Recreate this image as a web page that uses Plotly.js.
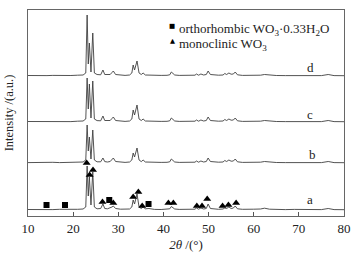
<!DOCTYPE html>
<html><head><meta charset="utf-8">
<script src="https://cdn.plot.ly/plotly-3.0.1.min.js"></script>
<style>html,body{margin:0;padding:0;background:#fff}#chart{width:358px;height:254px}</style>
</head><body><div id="chart"></div>
<script>
// 2θ sampling points (degrees)
var twoTheta = [10,11.5,13,14.2,15.5,17,18.3,19.5,21,22.2,22.8,23.1,23.35,23.6,23.95,24.35,24.7,25.3,26.1,26.6,
  27.0,27.6,28.2,28.6,28.9,29.4,30.5,31.5,32.5,33.0,33.3,33.6,34.15,34.6,35.1,35.5,36.0,36.8,38,39.5,
  40.8,41.4,41.75,42.1,42.5,43.5,45,46.5,47.0,47.3,47.8,48.3,48.9,49.5,49.9,50.4,51.2,52.2,53.2,53.6,
  54.0,54.5,55.0,55.5,55.9,56.4,57.5,58.5,60,61.5,62.4,63.5,65,67,69,71,73,75,76.5,77.8,80];

// intensities (a.u.), each above its own baseline
var intA = [0.5,0.3,0.8,0.6,0.4,0.7,0.6,0.4,0.7,1.0,3,44,14,33,5,38,3,1.2,1.5,6,
  1.5,1.2,2,3,4,1.5,0.8,0.6,1,3,10,6,16,3,1.5,3,1.2,1.5,0.6,0.5,
  0.8,1.2,3.5,2.5,1,0.6,0.5,0.6,0.8,2,0.8,2,1,1.5,6,1.5,1,0.7,1,2,
  1.5,3,1.5,2,4,1.2,0.7,0.5,0.8,1.0,1.8,0.8,0.5,0.4,0.6,0.3,0.5,0.4,1.5,0.4,0.3];
var intB = [0.4,0.6,0.3,0.5,0.7,0.4,0.5,0.6,0.8,1.0,3,38,12,26,4,33,3,1.2,1.2,5,
  1.4,1.0,1.5,3,5,1.5,0.7,0.6,1,3,10,6,15,3,1.4,3,1.0,0.8,0.5,0.6,
  0.7,1.2,4,2.5,1,0.6,0.4,0.6,0.8,2,0.8,2,1,1.5,5,1.5,1,0.8,1,2.5,
  1.5,3,1.8,2,4,1.2,0.6,0.5,0.7,0.8,1.5,0.8,0.5,0.4,0.5,0.3,0.5,0.4,1.5,0.4,0.3];
var intC = [0.5,0.4,0.7,0.4,0.6,0.5,0.6,0.4,0.8,1.0,3,44,13,38,4,41,3,1.4,1.2,6,
  1.5,1.2,1.5,3.5,5,1.5,0.8,0.6,1,3,12,7,17,3,1.5,3,1,0.8,0.5,0.6,
  0.7,1.2,4,2.5,1,0.6,0.4,0.6,0.8,2,0.8,2,1,1.5,5,1.5,1,0.8,1,2.5,
  1.5,3,1.8,2,4,1.2,0.6,0.5,0.7,0.8,1.5,0.8,0.5,0.4,0.5,0.3,0.5,0.4,1.5,0.4,0.3];
var intD = [0.5,0.3,0.8,0.4,0.6,0.3,0.7,0.5,0.8,1.0,3,61,12,33,4,43,3,1.5,1.2,6,
  1.5,1.2,1.5,3.5,5,1.5,0.8,0.6,1,3,11,6,15,3,1.5,3,1,0.8,0.5,0.6,
  0.7,1.2,4,2.5,1,0.6,0.4,0.6,0.8,2,0.8,2,1,1.5,5,1.5,1,0.8,1,2.5,
  1.5,3,1.8,2,4,1.2,0.6,0.5,0.7,0.8,1.5,0.8,0.5,0.4,0.5,0.3,0.5,0.4,1.5,0.4,0.3];

var seriesNames = ['a','b','c','d'];
var offsets = [6, 53, 94, 140];

// phase markers on pattern a
var orthoPos = [14.1, 18.2, 28.0, 36.7];
var orthoLevel = [11, 11, 16, 12];
var monoPos = [23.0, 23.65, 24.4, 26.5, 28.9, 33.3, 34.45, 35.3, 41.1, 42.2, 47.4, 48.55, 49.7, 53.1, 54.4, 56.1];
var monoLevel = [53, 41, 46, 14, 13, 19, 24, 10, 13, 13, 10, 10, 17, 10, 11, 13];

var legendLabels = ['orthorhombic WO<sub>3</sub>·0.33H<sub>2</sub>O', 'monoclinic WO<sub>3</sub>'];

var serif = "'Liberation Serif', 'Times New Roman', serif";
var intens = [intA, intB, intC, intD];
var traces = [];
for (var s = 0; s < 4; s++) {
  traces.push({
    x: twoTheta,
    y: intens[s].map(function (v) { return v + offsets[s]; }),
    type: 'scatter', mode: 'lines', name: seriesNames[s],
    line: {color: '#404040', width: 0.9}, hoverinfo: 'skip', showlegend: false
  });
}
traces.push({x: orthoPos, y: orthoLevel, type: 'scatter', mode: 'markers', showlegend: false,
  marker: {symbol: 'square', size: 6, color: '#000'}});
traces.push({x: monoPos, y: monoLevel, type: 'scatter', mode: 'markers', showlegend: false,
  marker: {symbol: 'triangle-up', size: 7, color: '#000'}});

var labelX = [72.5, 73.1, 72.5, 72.5];
var labelY = [17, 62, 102, 149];
var annotations = [];
for (var i = 0; i < 4; i++) {
  annotations.push({x: labelX[i], y: labelY[i], xref: 'x', yref: 'y', text: seriesNames[i],
    showarrow: false, font: {family: serif, size: 13, color: '#222'}});
}
annotations.push({x: 0.457, y: 0.951, xref: 'paper', yref: 'paper', text: '■', showarrow: false,
  font: {family: 'DejaVu Sans', size: 6.5, color: '#000'}});
annotations.push({x: 0.457, y: 0.879, xref: 'paper', yref: 'paper', text: '▲', showarrow: false,
  font: {family: 'DejaVu Sans', size: 6.5, color: '#000'}});
annotations.push({x: 0.472, y: 0.955, xref: 'paper', yref: 'paper', xanchor: 'left', text: legendLabels[0],
  showarrow: false, font: {family: serif, size: 13, color: '#222'}});
annotations.push({x: 0.472, y: 0.883, xref: 'paper', yref: 'paper', xanchor: 'left', text: legendLabels[1],
  showarrow: false, font: {family: serif, size: 13, color: '#222'}});

var layout = {
  width: 358, height: 254,
  margin: {l: 28, r: 14, t: 10, b: 38},
  paper_bgcolor: '#fff', plot_bgcolor: '#fff',
  showlegend: false,
  font: {family: serif, size: 12, color: '#222'},
  xaxis: {
    range: [10, 80], tickvals: [10,20,30,40,50,60,70,80], ticks: 'inside', ticklen: 4,
    tickcolor: '#555', showline: true, mirror: true, linecolor: '#666', linewidth: 1,
    showgrid: false, zeroline: false, tickfont: {family: serif, size: 13, color: '#222'},
    title: {text: '<i>2θ</i> /(°)', font: {family: serif, size: 13, color: '#222'}, standoff: 5}
  },
  yaxis: {
    range: [0, 206], showticklabels: false, ticks: '', showline: true, mirror: true,
    linecolor: '#666', linewidth: 1, showgrid: false, zeroline: false,
    title: {text: 'Intensity /(a.u.)', font: {family: serif, size: 12.5, color: '#222'}, standoff: 10}
  },
  annotations: annotations
};
Plotly.newPlot('chart', traces, layout, {displayModeBar: false, staticPlot: true});
</script></body></html>
